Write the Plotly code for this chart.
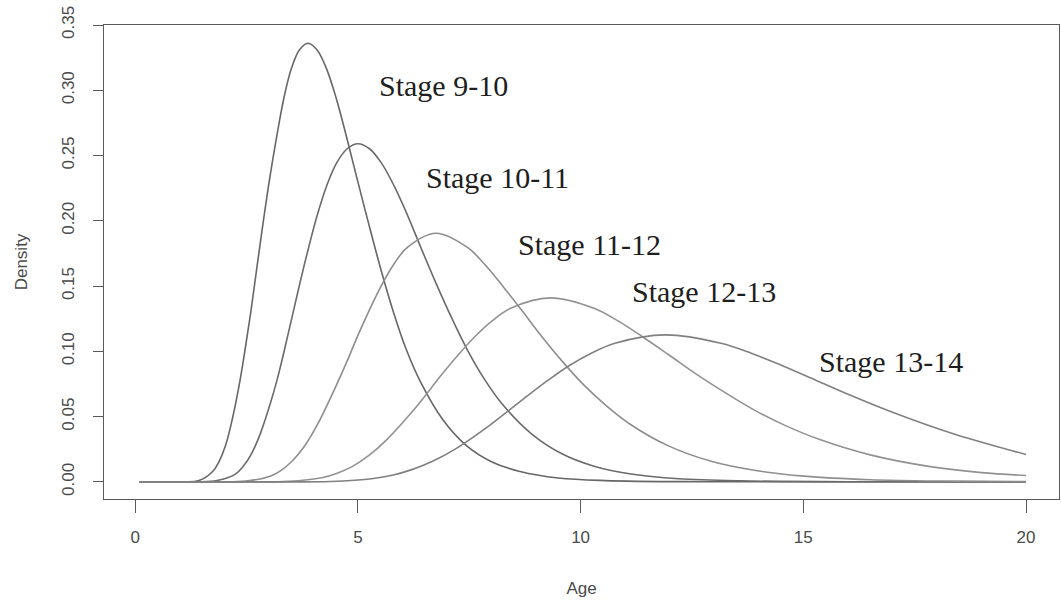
import plotly.graph_objects as go

# Age-at-stage density curves, one per developmental stage interval
stage_names = ["Stage 9-10", "Stage 10-11", "Stage 11-12", "Stage 12-13", "Stage 13-14"]

ages_9_10 = [0.1, 1.06, 1.43, 1.74, 1.88, 2.03, 2.18, 2.35, 2.47, 2.60, 2.73, 2.87, 3.02, 3.18, 3.34,
             3.51, 3.69, 3.88, 4.08, 4.29, 4.51, 4.74, 4.98, 5.24, 5.51, 5.79, 6.08, 6.40, 6.90,
             7.43, 8.01, 8.64, 9.50, 10.55, 12.88, 20.0]
dens_9_10 = [0, 0, 0.001, 0.008, 0.0154, 0.028, 0.048, 0.077, 0.102, 0.131, 0.1635, 0.198, 0.2325, 0.265, 0.2943,
             0.317, 0.3311, 0.336, 0.3311, 0.317, 0.2943, 0.265, 0.2325, 0.198, 0.1635, 0.131, 0.102, 0.077, 0.048,
             0.028, 0.0153, 0.008, 0.003, 0.001, 0.0001, 0]

ages_10_11 = [0.1, 1.36, 1.84, 2.25, 2.43, 2.61, 2.81, 3.03, 3.19, 3.35, 3.52, 3.70, 3.89, 4.09, 4.30,
              4.52, 4.76, 5.0, 5.26, 5.53, 5.81, 6.11, 6.42, 6.75, 7.10, 7.46, 7.84, 8.24, 8.89,
              9.58, 10.30, 11.13, 12.20, 13.59, 16.6, 20.0]
dens_10_11 = [0, 0, 0.001, 0.006, 0.0121, 0.0215, 0.037, 0.0596, 0.0787, 0.101, 0.126, 0.1525, 0.179, 0.2046, 0.2269,
              0.2442, 0.2552, 0.259, 0.2552, 0.2442, 0.2269, 0.2046, 0.179, 0.1525, 0.126, 0.101, 0.0787, 0.0596, 0.037,
              0.0215, 0.012, 0.006, 0.0024, 0.0008, 0.0001, 0]

ages_11_12 = [0.1, 1.84, 2.48, 3.03, 3.27, 3.52, 3.80, 4.09, 4.52, 4.76, 5.00, 5.26, 5.53, 5.81, 6.11, 6.75,
              7.46, 7.84, 8.24, 8.67, 9.11, 9.58, 10.07, 10.58, 11.13, 11.96, 12.93, 13.90, 15.02, 16.5,
              18.35, 20.0]
dens_11_12 = [0, 0, 0.0006, 0.0044, 0.0087, 0.0158, 0.0273, 0.0438, 0.0743, 0.0927, 0.1122, 0.1318, 0.1505, 0.1669,
              0.1796, 0.1905, 0.1796, 0.1669, 0.1505, 0.1318, 0.1122, 0.0927, 0.0743, 0.0583, 0.0438, 0.0278,
              0.0158, 0.0089, 0.0044, 0.0017, 0.0006, 0.0002]

ages_12_13 = [0.1, 2.54, 3.43, 4.19, 4.52, 4.87, 5.24, 5.65, 6.25, 6.90, 7.26, 7.63, 8.02, 8.43, 9.32, 10.30,
              10.83, 11.38, 11.97, 12.58, 13.20, 13.90, 14.60, 15.37, 16.5, 17.85, 19.0, 20.0]
dens_12_13 = [0, 0, 0.0004, 0.0032, 0.0065, 0.0117, 0.0201, 0.0324, 0.055, 0.083, 0.0976, 0.1114, 0.1235, 0.133,
              0.141, 0.133, 0.1235, 0.1114, 0.0976, 0.083, 0.0693, 0.055, 0.0431, 0.0324, 0.0207, 0.0117,
              0.0071, 0.0049]

ages_13_14 = [0.1, 3.24, 4.38, 5.35, 5.77, 6.21, 6.70, 7.22, 7.98, 8.82, 9.27, 9.74, 10.24, 10.77, 11.9, 13.15,
              13.83, 14.53, 15.28, 16.06, 16.90, 17.75, 18.40, 19.20, 20.0]
dens_13_14 = [0, 0, 0.0003, 0.0026, 0.0051, 0.0094, 0.0162, 0.0259, 0.0439, 0.0663, 0.0779, 0.089, 0.0986, 0.1062,
              0.1126, 0.1062, 0.0986, 0.089, 0.0779, 0.0663, 0.0546, 0.0439, 0.0365, 0.0285, 0.021]

x_ticks = [0, 5, 10, 15, 20]
y_ticks = [0.00, 0.05, 0.10, 0.15, 0.20, 0.25, 0.30, 0.35]

series = [
    (ages_9_10, dens_9_10),
    (ages_10_11, dens_10_11),
    (ages_11_12, dens_11_12),
    (ages_12_13, dens_12_13),
    (ages_13_14, dens_13_14),
]
line_colors = ["#676767", "#6b6b6b", "#8e8e8e", "#929292", "#808080"]

# where each stage name is written (left edge, vertical middle) in data units
label_pos = [(5.43, 0.304), (6.48, 0.233), (8.55, 0.1815), (11.11, 0.1462), (15.31, 0.092)]

fig = go.Figure()
for (ages, dens), color, name in zip(series, line_colors, stage_names):
    fig.add_trace(go.Scatter(
        x=ages, y=dens, mode="lines", name=name,
        line=dict(color=color, width=1.6, shape="spline", smoothing=1.0),
        showlegend=False, hoverinfo="x+y+name",
    ))

for name, (lx, ly) in zip(stage_names, label_pos):
    fig.add_annotation(
        x=lx, y=ly, xref="x", yref="y", text=name, showarrow=False,
        xanchor="left", yanchor="middle",
        font=dict(family="Liberation Serif, Times New Roman, serif", size=30, color="#1e1e1e"),
    )

axis_font = dict(family="Liberation Sans, Arial, sans-serif", size=17, color="#4a4a4a")

fig.update_xaxes(
    range=[-0.70, 20.74], tickvals=x_ticks, ticktext=[str(v) for v in x_ticks],
    showline=True, mirror=True, linecolor="#5a5a5a", linewidth=1.3,
    ticks="outside", ticklen=13, tickwidth=1.2, tickcolor="#5a5a5a",
    showgrid=False, zeroline=False, tickfont=axis_font, ticklabelstandoff=9,
    title=dict(text="Age", font=axis_font, standoff=36),
)
fig.update_yaxes(
    range=[-0.0131, 0.350], tickvals=y_ticks, ticktext=[f"{v:.2f}" for v in y_ticks],
    showline=True, mirror=True, linecolor="#5a5a5a", linewidth=1.3,
    ticks="outside", ticklen=10, tickwidth=1.2, tickcolor="#5a5a5a",
    showgrid=False, zeroline=False, tickfont=axis_font, tickangle=-90, ticklabelstandoff=12,
    title=dict(text="Density", font=axis_font, standoff=27),
)

fig.update_layout(
    width=1061, height=614,
    margin=dict(l=104, r=2, t=25, b=115),
    paper_bgcolor="white", plot_bgcolor="white",
)

fig.write_html("out.html")
